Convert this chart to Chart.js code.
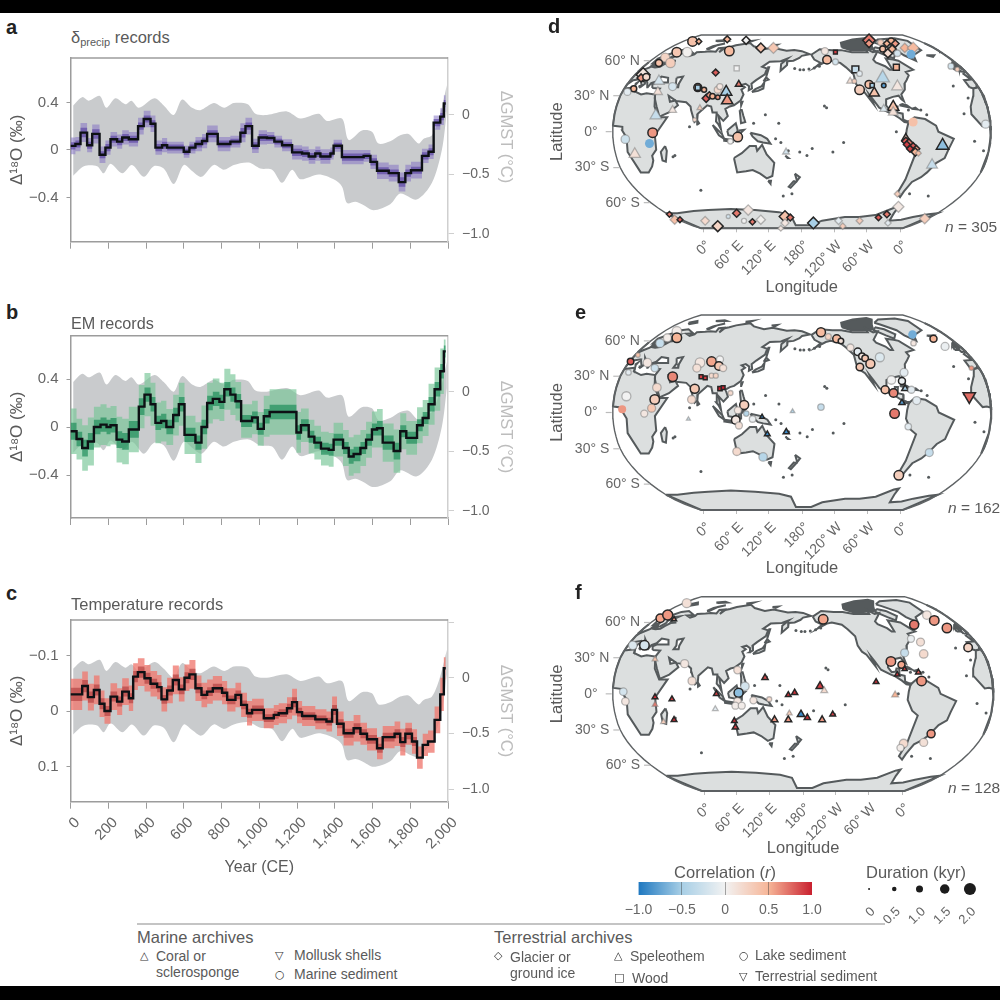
<!DOCTYPE html>
<html>
<head>
<meta charset="utf-8">
<title>Isotope records</title>
<script src="https://cdn.jsdelivr.net/npm/chart.js@4"></script>
<style>
  html, body { margin: 0; padding: 0; background: #fff; width: 1000px; height: 1000px; overflow: hidden; }
  body { position: relative; font-family: "Liberation Sans", "DejaVu Sans", sans-serif; color: #5a5a5a; }
  canvas { position: absolute; }
  .bar { position: absolute; left: 0; width: 1000px; background: #000; z-index: 5; }
  .t { position: absolute; transform: translateY(-50%); white-space: nowrap; font-size: 16.5px; line-height: 1; z-index: 4; }
  .c { transform: translate(-50%, -50%); }
  .r { transform: translate(-50%, -50%) rotate(90deg); color: #bdbdbd; font-size: 16.5px; }
  .letter { font-weight: bold; font-size: 20px; color: #222; }
  .small { font-size: 14px; }
  .glyph { font-size: 11px; font-weight: bold; color: #333; font-family: "DejaVu Sans", sans-serif; }
  sub { font-size: 11px; vertical-align: -3px; line-height: 0; }
  #rule { position: absolute; left: 137px; top: 923px; width: 748px; height: 1.5px; background: #c4c4c4; }
</style>
</head>
<body>
<div class="bar" style="top:0;height:13px"></div>
<div class="bar" style="top:986px;height:14px"></div>

<div class="t letter" style="left:6px;top:27px">a</div>
<div class="t letter" style="left:6px;top:312px">b</div>
<div class="t letter" style="left:6px;top:593px">c</div>
<div class="t letter" style="left:548px;top:26px">d</div>
<div class="t letter" style="left:575px;top:312px">e</div>
<div class="t letter" style="left:575px;top:592px">f</div>

<div class="t" style="left:71px;top:37px">δ<sub>precip</sub> records</div>
<div class="t" style="left:71px;top:323px;font-size:16.2px">EM records</div>
<div class="t" style="left:71px;top:604px">Temperature records</div>

<div class="t r" style="left:507px;top:137px">ΔGMST (°C)</div>
<div class="t r" style="left:507px;top:427px">ΔGMST (°C)</div>
<div class="t r" style="left:507px;top:711px">ΔGMST (°C)</div>

<div class="t" style="left:945px;top:227px;font-size:15.5px"><i>n</i> = 305</div>
<div class="t" style="left:948px;top:508px;font-size:15.5px"><i>n</i> = 162</div>
<div class="t" style="left:948px;top:788px;font-size:15.5px"><i>n</i> = 128</div>

<div class="t c" style="left:725px;top:872px">Correlation (<i>r</i>)</div>
<div class="t c" style="left:916px;top:872px">Duration (kyr)</div>

<div id="rule"></div>
<div class="t" style="left:137px;top:937px">Marine archives</div>
<div class="t" style="left:494px;top:937px">Terrestrial archives</div>
<div class="t glyph" style="left:140px;top:955px">△</div>
<div class="t small" style="left:156px;top:956px">Coral or</div>
<div class="t small" style="left:156px;top:972px">sclerosponge</div>
<div class="t glyph" style="left:275px;top:955px">▽</div>
<div class="t small" style="left:294px;top:955px">Mollusk shells</div>
<div class="t glyph" style="left:275px;top:974px">○</div>
<div class="t small" style="left:294px;top:974px">Marine sediment</div>
<div class="t glyph" style="left:494px;top:955px">◇</div>
<div class="t small" style="left:510px;top:957px">Glacier or</div>
<div class="t small" style="left:510px;top:973px">ground ice</div>
<div class="t glyph" style="left:614px;top:955px">△</div>
<div class="t small" style="left:630px;top:956px">Speleothem</div>
<div class="t glyph" style="left:614px;top:977px">□</div>
<div class="t small" style="left:632px;top:978px">Wood</div>
<div class="t glyph" style="left:739px;top:955px">○</div>
<div class="t small" style="left:755px;top:955px">Lake sediment</div>
<div class="t glyph" style="left:739px;top:976px">▽</div>
<div class="t small" style="left:755px;top:976px">Terrestrial sediment</div>

<script>
const gmstUpYears = [14,62,97,155,190,238,291,323,362,445,494,547,591,644,688,759,815,865,939,980,1041,1147,1218,1315,1359,1438,1474,1544,1597,1632,1694,1747,1791,1844,1871,1915,1955,1994];
const gmstUp = [0.08,0.15,0.12,0.16,0.06,0.14,0.09,0.12,0.06,0.14,0.08,0,0.13,0.06,0.04,0.10,0.06,0.10,0.09,0.01,0,0.03,-0.03,0.01,-0.05,-0.03,-0.21,-0.13,-0.14,-0.24,-0.22,-0.17,-0.16,-0.24,-0.2,-0.17,-0.01,0.25];
const gmstLowYears = [14,71,141,176,212,274,326,388,441,494,547,600,644,694,759,812,865,944,1006,1068,1121,1174,1218,1315,1394,1438,1465,1509,1544,1606,1694,1747,1835,1915,1968,1994];
const gmstLow = [-0.51,-0.43,-0.43,-0.49,-0.41,-0.49,-0.42,-0.52,-0.43,-0.45,-0.58,-0.42,-0.47,-0.52,-0.42,-0.46,-0.42,-0.4,-0.45,-0.46,-0.57,-0.46,-0.54,-0.5,-0.54,-0.6,-0.74,-0.73,-0.75,-0.8,-0.75,-0.66,-0.71,-0.57,-0.29,0.03];

const yearTicks = [0,200,400,600,800,1000,1200,1400,1600,1800,2000];
const gmstTicks = [0,-0.5,-1];
const gmstTicksC = [0.5,0,-0.5,-1];

const precipYears = [0,26,53,88,115,154,185,212,247,274,309,358,388,424,450,485,512,600,630,662,697,724,780,847,900,927,962,997,1041,1080,1121,1174,1227,1262,1297,1324,1377,1394,1438,1553,1589,1624,1686,1739,1774,1804,1862,1897,1924,1959,1978,1988];
const precipVals = [0.034,0.05,0.146,0.04,0.135,-0.04,0.02,0.09,0.07,0.105,0.09,0.2,0.26,0.22,0.02,0.04,0.02,-0.015,0.02,0.05,0.075,0.135,0.05,0.07,0.145,0.2,0.035,0.105,0.1,0.07,0.04,-0.02,-0.03,-0.055,-0.03,-0.055,-0.03,0.035,-0.06,-0.05,-0.1,-0.175,-0.195,-0.27,-0.195,-0.17,-0.05,-0.015,0.23,0.28,0.39,0.39];
const precipOuter = [0.07,0.06,0.08,0.06,0.08,0.07,0.06,0.06,0.06,0.06,0.06,0.07,0.07,0.07,0.06,0.06,0.05,0.05,0.05,0.06,0.06,0.07,0.06,0.05,0.08,0.07,0.06,0.06,0.05,0.05,0.05,0.06,0.06,0.06,0.06,0.06,0.05,0.05,0.06,0.05,0.06,0.07,0.07,0.08,0.07,0.07,0.06,0.06,0.06,0.07,0.07,0.07];
const precipInner = [0.03,0.03,0.04,0.03,0.04,0.03,0.03,0.03,0.03,0.03,0.03,0.03,0.03,0.03,0.03,0.03,0.025,0.025,0.025,0.03,0.03,0.03,0.03,0.025,0.04,0.03,0.03,0.03,0.025,0.025,0.025,0.03,0.03,0.03,0.03,0.03,0.025,0.025,0.03,0.025,0.03,0.03,0.03,0.04,0.03,0.03,0.03,0.03,0.03,0.03,0.03,0.03];

const emYears = [0,32,62,92,124,159,191,212,244,274,309,362,392,424,450,480,508,544,574,604,662,694,724,754,789,815,847,874,904,962,992,1024,1055,1197,1221,1262,1292,1327,1368,1394,1444,1474,1500,1536,1566,1597,1624,1654,1712,1747,1779,1836,1866,1897,1929,1959,1978,1988];
const emVals = [-0.035,-0.1,-0.175,-0.12,0,0.02,0,0.015,-0.105,-0.12,-0.02,0.17,0.27,0.19,0.035,0.05,0,0.1,0.19,-0.065,-0.13,0,0.2,0.235,0.21,0.315,0.27,0.215,0.05,0.08,-0.015,0.09,0.125,-0.045,0.015,-0.08,-0.13,-0.18,-0.19,-0.105,-0.175,-0.245,-0.225,-0.175,-0.105,-0.02,-0.01,-0.13,-0.2,-0.035,-0.09,0.015,0.075,0.19,0.315,0.465,0.63,0.63];
const emOuter = [0.19,0.17,0.19,0.2,0.17,0.17,0.16,0.16,0.19,0.19,0.19,0.18,0.18,0.18,0.17,0.17,0.15,0.17,0.18,0.16,0.17,0.18,0.17,0.17,0.16,0.17,0.17,0.16,0.14,0.14,0.14,0.17,0.19,0.17,0.14,0.14,0.14,0.14,0.14,0.14,0.15,0.16,0.16,0.15,0.15,0.15,0.16,0.16,0.18,0.15,0.14,0.15,0.15,0.17,0.18,0.19,0.1,0.1];
const emInner = [0.07,0.06,0.07,0.07,0.06,0.06,0.06,0.06,0.07,0.07,0.07,0.07,0.06,0.06,0.06,0.06,0.06,0.06,0.06,0.06,0.06,0.06,0.06,0.06,0.06,0.06,0.06,0.06,0.05,0.05,0.05,0.06,0.06,0.06,0.05,0.05,0.05,0.05,0.05,0.05,0.05,0.06,0.06,0.05,0.05,0.05,0.06,0.06,0.07,0.05,0.05,0.05,0.05,0.06,0.06,0.06,0.05,0.05];

const tempYears = [0,62,92,124,154,180,212,247,274,309,332,357,392,424,459,482,512,542,574,604,630,662,694,724,754,803,830,874,904,935,962,1024,1077,1103,1147,1174,1200,1227,1297,1356,1386,1412,1447,1500,1536,1571,1624,1654,1717,1747,1774,1809,1836,1866,1894,1929,1959,1978,1988];
const tempVals = [-0.03,-0.045,-0.025,-0.038,-0.013,0,-0.026,-0.017,-0.035,-0.023,-0.062,-0.07,-0.059,-0.049,-0.043,-0.021,-0.037,-0.056,-0.039,-0.06,-0.066,-0.041,-0.029,-0.035,-0.041,-0.033,-0.02,-0.029,-0.011,0.004,-0.002,0.013,0.007,0.004,-0.005,-0.016,0.002,0.009,0.015,0.019,-0.002,0.023,0.04,0.031,0.041,0.051,0.067,0.047,0.041,0.056,0.041,0.055,0.084,0.061,0.055,0.016,-0.03,-0.077,-0.077];
const tempOuter = [0.028,0.026,0.024,0.026,0.024,0.023,0.024,0.024,0.024,0.023,0.024,0.025,0.024,0.023,0.022,0.022,0.023,0.026,0.022,0.024,0.026,0.023,0.022,0.022,0.022,0.021,0.021,0.022,0.022,0.022,0.02,0.018,0.018,0.018,0.02,0.024,0.02,0.018,0.018,0.018,0.024,0.022,0.022,0.024,0.02,0.02,0.02,0.02,0.022,0.024,0.02,0.022,0.02,0.02,0.02,0.024,0.03,0.02,0.02];
const tempInner = [0.012,0.011,0.01,0.01,0.01,0.009,0.009,0.009,0.009,0.009,0.01,0.01,0.01,0.009,0.009,0.008,0.009,0.01,0.009,0.01,0.01,0.009,0.008,0.008,0.008,0.008,0.008,0.008,0.008,0.008,0.008,0.007,0.007,0.007,0.008,0.009,0.008,0.007,0.007,0.007,0.009,0.008,0.008,0.009,0.008,0.008,0.008,0.008,0.008,0.009,0.01,0.008,0.008];

/* ---- map ticks ---- */
const latTicks = [60,30,0,-30,-60];
const latLabels = ['60° N','30° N','0°','30° S','60° S'];
const lonTickX = [-93.6,-62.6,-31.6,0,31,62,94];
const lonLabels = ['0°','60° E','120° E','180°','120° W','60° W','0°'];

/* Robinson table, every 5 degrees */
const robX = [1,0.9986,0.9954,0.99,0.9822,0.973,0.96,0.9427,0.9216,0.8962,0.8679,0.835,0.7986,0.7597,0.7186,0.6732,0.6213,0.5722,0.5322];
const robY = [0,0.062,0.124,0.186,0.248,0.31,0.372,0.434,0.4958,0.5571,0.6176,0.6769,0.7346,0.7903,0.8435,0.8936,0.9394,0.9761,1];

/* ---- coastlines, [lon, lat] ---- */
const eurasia = [[-9,37],[-9.5,43],[-1.5,43.5],[-4.5,48.5],[1.5,50.5],[4,52],[8,54],[8.5,57],[10.5,57.5],[10,54.5],[14,54],[19,54.5],[21,57],[24,59.5],[30,60],[23,60],[21.5,63],[25,65.5],[21.5,65],[17.5,61.5],[18.5,59.5],[16,56.5],[13,55.5],[11,59],[6,58],[5,62],[13,66.5],[20,70],[28,71],[41,67],[33,66.5],[40,64.5],[44,66],[44,68],[54,68.5],[60,69],[68,68.5],[67,72],[73,72.5],[73,68],[75,72],[80,73],[87,75],[104,77.5],[113,74],[129,71],[140,72.5],[160,69.5],[170,70],[180,69],[190,66],[180,64.5],[177,62.5],[170,60],[163,59.5],[163,56],[156.5,51],[156,57],[163,62],[155,59.5],[142,59],[135,54.5],[141,53],[140,48],[132,43],[128,40],[129.5,36],[126.5,34.5],[126,38],[122,40],[118,39],[122,37],[119,35],[122,31],[120,26],[114,22],[110,21],[106,19],[109,13],[105,9],[100,13.5],[103,2],[100.5,6],[98,8.5],[98,16],[94,16],[92,21],[88,22],[80,15],[80,10],[77.5,8],[73,18],[72,21],[67,24.5],[57,25.5],[52,28],[48,30],[51,25],[56,26],[59.5,22],[52,16],[43.5,12.5],[39,21],[35,28],[34,31],[36,36],[28,36.5],[26,39.5],[29,41],[41,41],[38,45],[30,46],[28,42],[24,40.5],[23,37],[19.5,41],[13,45.5],[18,40],[16,38],[10,44],[3,43],[0,39.5],[-2,37],[-6,36],[-9,37]];
const africa = [[-6,36],[10,37],[11,34],[20,31],[25,32],[34,31],[37,21],[43,12],[51,12],[40,-3],[40,-15],[35,-20],[35,-24],[32,-29],[26,-34],[18,-34],[12,-17],[13,-5],[9,1],[9,4],[-4,5],[-8,4.5],[-17,14.5],[-16,21],[-10,30],[-6,36]];
const northAmerica = [[-168,65.5],[-156,71],[-140,70],[-128,70],[-115,68],[-108,68],[-95,68],[-94,72],[-88,68],[-81,69],[-86,66],[-94,61],[-93,58.5],[-85,55],[-82,52],[-79,52],[-79,55],[-78,62],[-70,61],[-65,60],[-56,52],[-66,50],[-65,47],[-70,43],[-74,40],[-76,35],[-81,31],[-80,25.5],[-82,27],[-84,30],[-90,29],[-97,27],[-98,22],[-95,18],[-91,18.5],[-90,21],[-87,21],[-88,16],[-83,15],[-83,10],[-80,9],[-77,8.5],[-78,7.5],[-82,8],[-86,11],[-92,14.5],[-96,16],[-105,20],[-110,27],[-113,31],[-110,23],[-117,32.5],[-121,35],[-124,40],[-124,48],[-130,54],[-135,58],[-146,60],[-152,59],[-164,54.5],[-158,58],[-165,61],[-168,65.5]];
const southAmerica = [[-78,8],[-72,12],[-62,10.5],[-52,5],[-50,0],[-35,-6],[-39,-15],[-41,-22],[-48,-26],[-54,-34],[-58,-38],[-65,-42],[-68,-50],[-68,-55],[-74,-52],[-73,-40],[-70,-18],[-76,-14],[-81,-5],[-80,2],[-78,8]];
const australia = [[114,-22],[122,-18],[130,-12],[136,-12],[137,-16],[142,-11],[146,-19],[153,-26],[150,-37],[144,-39],[138,-35],[131,-32],[124,-33],[115,-34],[114,-22]];
const antarctica = [[0,-70],[15,-70],[40,-68],[60,-67],[90,-66],[120,-67],[150,-69],[165,-72],[170,-84],[195,-84],[210,-78],[240,-74],[260,-74],[280,-72],[295,-65],[300,-64],[302,-70],[310,-78],[325,-77],[335,-74],[350,-71],[360,-70],[360,-90],[0,-90],[0,-70]];
const islands = [
  [[49,-12],[50,-16],[47,-25],[44,-24],[44,-17]],
  [[-73,78],[-60,82],[-30,83.5],[-18,80],[-22,70],[-40,65],[-44,60],[-52,65],[-55,70],[-68,76]],
  [[-80,73],[-70,71],[-62,66],[-68,62],[-75,65],[-85,70]],
  [[173,-35],[178,-38],[175,-41],[174,-38]],
  [[172,-41],[174,-42],[168,-47],[166,-46]],
  [[95,5.5],[104,-2],[106,-6],[101,-3]],
  [[106,-6],[114,-7],[114,-8.5],[106,-7.5]],
  [[109,1],[117,7],[119,1],[116,-4],[110,-3]],
  [[120,1],[125,1.5],[122,-1],[122,-5],[120,-5]],
  [[131,-1],[141,-3],[147,-6],[150,-10],[143,-9],[138,-8],[133,-4]],
  [[120,18],[122,18],[124,13],[126,8],[122,7],[121,13]],
  [[130,33],[136,34],[141,36],[141,41],[139,38],[133,35.5]],
  [[140,42],[145,43.5],[142,45.5]],
  [[142,46],[143,54],[142,54]],
  [[120.5,25],[122,25],[121,22]],
  [[80,9.5],[82,7],[80.5,6]],
  [[-5,50],[1,51],[0,54],[-2,57],[-3,58.5],[-6,57],[-3,54],[-5,52]],
  [[-10,52],[-6,52],[-6,55],[-9,54.5]],
  [[-24,65],[-14,65],[-18,63.5]],
  [[12,78],[20,80],[25,78],[17,76.5]],
  [[52,71],[56,74],[68,77],[60,75],[55,71]],
  [[48,80],[60,81],[65,80],[52,79.5]],
  [[95,79],[105,80],[100,78]],
  [[137,75],[145,75.5],[142,74]],
  [[-85,22],[-75,20],[-78,22],[-82,23]],
  [[-74,19],[-68,18.5],[-70,20]],
  [[145,-41],[148,-41],[147,-43.5]],
  [[164,-20],[167,-22],[166,-22]],
  [[9,39],[9.5,41],[8.5,40]],
  [[13,38],[15.5,38],[15,37]]
];
// Canadian Arctic islands merge into one dark patch at this scale
const arcticIslands = [[-125,73],[-122,78],[-100,82],[-75,84],[-70,82],[-80,76],[-85,71],[-100,70],[-115,70]];
const caspian = [[47,45],[53,46],[53,40],[54,37],[49,37],[50,40]];
const smallIslands = [[-156,20],[-158,21.5],[-178,52],[-172,52.5],[-166,53.5],[-160,55],[172,53],[178,52],[-150,-17],[-140,-9],[-170,-14],[-175,-20],[178,-17],[167,-16],[160,-9],[155,-6],[145,14],[134,7],[158,7],[-90,0],[-60,-52],[-37,-54],[70,-49],[57,-20],[55,-21],[73,4],[-25,38],[-16,28],[-24,15],[-5,-16],[-15,-8],[169,-52],[159,-54],[-60,14],[-65,18],[-77,18]];

/* ---- proxy sites in the map plane: [x, y, r, duration, kind, edge] ---- */
const dSites = [
  [-104,84,0.4,1.5,'c',1],[-98,84,0.5,0.6,'d',1],[-71,86,0.5,0.8,'d',1],[-53,85,0,1,'d',1],[-39,78,0.4,1.3,'d',1],[-27,78,0.35,1.5,'d',0],
  [-69,75,0.45,1.5,'c',1],[-119,74,0.35,1.5,'c',1],[-109,74,0.02,1.5,'c',0],[-130,69,0.25,1.4,'c',0],[-125,64,0.3,1.5,'c',0],[-136,64,0.4,1,'c',1],
  [-151,53,0.1,2,'d',1],[-153,50,0.6,1,'d',1],[-148,51,0.2,1,'c',1],[-160,40,0.5,0.8,'c',1],[-166,37,-0.1,1,'c',0],[-136,47,-0.2,1.5,'t',0],
  [-123,42,-0.2,1.2,'c',0],[-137,37,0.15,1.2,'t',0],[-139,15,-0.3,1.6,'t',0],[-123,20,0.1,1,'t',0],[-142,-1,0.6,1.5,'c',1],[-145,-11,-0.7,1.4,'c',2],
  [-168,-7,-0.25,1.3,'c',0],[-159,-21,0.15,1.6,'t',0],[-82,55,0.8,0.8,'d',1],[-62,59,0,0.8,'s',0],[-99,41,0.5,1.2,'c',1],[-99,41,-0.5,0.8,'s',1],
  [-60,44,0.7,0.8,'t',1],[-80,39,0.2,1,'c',0],[-78,42,0.1,0.8,'c',0],[-72,37,-0.5,1.6,'t',1],[-71,29,0.6,1.6,'t',1],[-91,31,0.8,1,'d',1],
  [-88,34,0.6,0.8,'d',1],[-85,33,0.5,0.7,'c',1],[-80,32,0.6,0.5,'c',1],[-93,39,0.5,0.6,'c',1],[-97,22,0.3,0.6,'t',0],[-102,11,0.2,0.4,'c',0],
  [-61,-5,0.4,1.5,'c',1],[-68,-9,0,0.7,'c',0],[-15,-19,-0.2,0.8,'t',0],[32,65,-0.2,0.8,'c',0],[32,74,0.9,0.5,'s',1],[22,75,0.1,1,'c',0],
  [24,67,0.45,1.3,'c',1],[51,58,-0.3,1.2,'s',1],[55,54,-0.1,0.7,'c',0],[46,47,0.15,0.8,'t',0],[50,47,0.3,0.5,'c',0],[64,44,0.4,1.2,'c',1],
  [67,43,-0.5,0.6,'s',1],[55,39,0.3,1.5,'c',1],[69,36,0.4,1.4,'t',1],[77,50,-0.4,2,'t',0],[78,43,-0.8,0.5,'c',1],[91,42,0.1,1.6,'t',0],
  [87,23,0.4,1.6,'t',1],[78,21,-0.15,1,'t',0],[87,18,0.15,1.3,'t',0],[106,9,0.4,1.4,'c',2],[64,85,0.7,1.8,'d',1],[64,82,0.6,1,'d',1],
  [75,83,0.3,0.8,'c',0],[85,84,0.5,1,'c',1],[89,82,0.6,0.9,'d',1],[81,82,0.5,0.8,'d',1],[77,77,0.4,0.8,'c',1],[82,73,0.2,1.2,'d',1],
  [86,77,0.5,1,'d',1],[91,73,-0.2,0.9,'c',0],[98,78,0.5,1.2,'d',0],[106,78,0.45,1.6,'d',0],[104,72,-0.7,1.4,'c',2],[90,60,0.5,1,'s',1],
  [142,61,-0.2,0.8,'c',0],[148,58,0.3,0.5,'c',0],[175,7,-0.1,1.2,'c',0],[134,-13,-0.6,1.8,'t',1],[124,-31,-0.3,1.5,'t',0],[99,-6,0.3,1,'t',1],
  [99,-9,0.8,1,'d',1],[102,-11,0.7,1.2,'d',1],[106,-14,0.8,1,'d',1],[109,-16,0.6,0.8,'d',1],[103,-16,0.9,0.8,'d',1],[108,-19,0.5,1,'d',1],
  [111,-20,0.4,0.6,'d',0],[100,-12,0.9,0.8,'d',1],[91,-58,0.3,0.7,'d',0],[92,-70,0.08,1.5,'d',0],[81,-77,0.7,0.8,'d',1],[73,-80,0.8,0.7,'d',1],
  [82,-85,-0.1,0.7,'d',0],[117,-81,0.3,1.4,'d',0],[55,-83,0.3,0.8,'d',0],[35,-83,-0.1,0.9,'d',0],[39,-88,0.3,0.7,'d',0],[11,-85,-0.5,1.6,'d',1],
  [-16,-79,0.4,1.6,'d',1],[-11,-80,0.7,0.8,'d',1],[-16,-85,0.1,1,'d',0],[-20,-90,0.1,0.6,'d',0],[-39,-82,0.02,1.2,'d',0],[-47,-84,0.7,0.7,'d',1],
  [-51,-73,0.1,1.4,'d',0],[-62,-76,0.7,1,'d',1],[-55,-83,0,0.6,'c',0],[-70,-79,-0.2,0.4,'c',0],[-80,-88,0.25,1.5,'d',1],[-92,-83,0.2,1.1,'d',0],
  [-126,-77,0.7,0.6,'d',1],[-121,-82,0.4,1.2,'d',0],[-116,-82,0.8,0.6,'d',1]
];
const eSites = [
  [-119,75,0.05,1.5,'c',0],[-128,69,0.05,1.2,'c',0],[-119,69,0.5,1.5,'c',1],[-135,64,-0.3,1.3,'c',0],[-156,53,0.4,0.5,'c',0],[-163,47,0.8,0.9,'c',1],
  [-147,46,0.1,1.3,'c',0],[-140,41,-0.25,1.1,'c',0],[-165,37,-0.1,0.7,'c',0],[-123,33,0.65,1.5,'c',1],[-138,23,0.2,1.3,'c',0],[-167,15,0,1.4,'c',0],
  [-140,12,0.3,1.5,'c',1],[-171,3,0.6,1.2,'c',2],[-143,4,0.35,1.2,'c',0],[-150,-1,0.1,1,'c',0],[-97,46,0.1,1.5,'c',0],[-100,41,0.15,1.2,'c',0],
  [-86,47,0.55,1.5,'c',1],[-78,49,0,1,'c',0],[-79,43,0.35,1.3,'c',1],[-75,41,0.15,1,'c',0],[-86,34,0.2,0.6,'c',0],[-82,34,0.25,0.6,'c',0],
  [-96,33,0.9,0.5,'s',1],[-92,32,0.9,0.5,'s',1],[-102,22,0.35,1.4,'c',1],[-105,12,0.2,1.2,'c',0],[-78,22,1,0.6,'s',1],[-75,23,1,0.5,'s',1],
  [-68,18,0.2,0.6,'c',0],[-55,7,0.3,1.4,'c',1],[-61,2,0.1,1,'c',0],[-63,-7,0.1,1.3,'c',1],[-53,-1,-0.4,0.7,'c',0],[-47,-6,-0.05,0.9,'c',0],
  [-60,-12,0.15,1,'c',0],[-38,-4,-0.9,0.4,'t',1],[-33,-20,-0.9,0.6,'t',1],[-15,-18,-0.9,0.7,'t',1],[-9,1,-0.4,0.4,'t',0],[-108,-6,-0.2,0.3,'t',0],
  [-62,-36,0.2,1.2,'c',0],[-37,-41,-0.4,1.3,'c',0],[18,5,-0.3,0.9,'c',0],[18,74,0.45,1.4,'c',1],[25,70,0.25,0.8,'c',0],[33,68,0.45,1.2,'c',1],
  [37,66,0.15,0.7,'c',1],[46,60,0.1,1,'c',0],[53,56,-0.1,1.1,'c',1],[57,52,0.1,0.9,'c',1],[60,50,0.35,0.9,'c',1],[65,45,0.35,1.4,'c',1],
  [55,42,0.35,1.1,'c',1],[74,51,-0.15,1.4,'c',0],[105,72,-0.7,1.3,'c',2],[106,64,0.1,0.7,'c',0],[125,68,0.5,1,'c',1],[136,61,-0.05,1.2,'c',0],
  [97,37,-0.1,1.2,'c',0],[85,30,0,1.3,'c',0],[95,29,-0.05,1,'c',1],[79,21,0.4,1.2,'c',1],[87,18,0.65,1.3,'c',1],[98,22,-0.5,0.8,'t',1],
  [104,21,-0.1,1,'c',0],[109,11,-0.1,1.2,'c',0],[95,9,-0.8,0.7,'t',1],[88,-1,0.7,1.5,'c',1],[101,-13,-0.1,0.9,'c',0],[121,-37,-0.3,1.2,'c',0],
  [92,-58,0.3,1.5,'c',1],[159,15,0.75,1.8,'v',1],[161,41,0.6,0.5,'c',0]
];
const fSites = [
  [-110,84,0.15,1.4,'c',0],[-135,70,0.55,1.3,'c',1],[-128,73,0.6,1.6,'c',1],[-122,69,0.6,0.5,'t',1],[-161,45,-0.15,1.3,'c',0],[-150,45,-0.2,1.5,'c',1],
  [-140,32,0.4,0.6,'t',0],[-112,28,0.1,1.2,'c',0],[-105,12,0.15,1.2,'c',0],[-170,2,-0.2,1.1,'c',0],[-168,-7,0.1,1.1,'c',0],[-140,-3,0.95,0.6,'t',1],
  [-140,-10,0.7,0.6,'t',0],[-124,-5,0.9,0.6,'t',1],[-122,-24,0.95,0.6,'t',1],[-132,-26,0.3,0.6,'t',0],[-82,0,0.9,0.6,'t',1],[-83,-14,-0.1,0.6,'t',0],
  [-65,-25,0.95,0.6,'t',1],[-64,-31,0.9,0.7,'t',1],[-62,22,0.15,1.1,'c',0],[-55,7,-0.2,1.3,'c',0],[-61,1,-0.6,1.4,'c',1],[-62,-7,0.1,1.1,'c',0],
  [-64,-11,0.05,1,'c',0],[-58,-11,0.05,1,'c',0],[-47,-6,0.1,1,'c',0],[-36,15,0.85,0.7,'t',1],[-14,-1,0.95,0.6,'t',1],[-8,1,0.95,0.7,'t',1],
  [16,7,0.9,1,'t',1],[20,3,0.2,0.8,'t',0],[-2,-19,-0.9,0.9,'t',1],[4,-22,0.95,0.7,'t',1],[-27,-24,0.6,0.8,'t',1],[-14,-24,0.6,0.8,'t',1],
  [-13,-18,0.3,0.6,'t',0],[18,-24,0.6,0.8,'t',1],[28,-19,0.9,0.6,'t',1],[-32,-5,0.2,0.6,'c',0],[19,69,0.55,1.5,'c',1],[69,11,0.95,0.6,'t',1],
  [87,-1,0.5,0.8,'t',0],[83,30,0.6,1.5,'c',1],[93,27,0.55,1,'c',1],[89,18,0.95,0.5,'t',1],[96,23,0.9,0.5,'t',1],[109,20,0.8,0.6,'t',1],
  [112,12,0.6,1.5,'c',1],[102,51,-0.05,1,'c',0],[111,48,0.15,1.2,'c',0],[114,37,0.2,1.3,'c',0],[96,38,-0.3,1.2,'c',0],[105,64,0.7,1.4,'c',1],
  [117,73,0.1,1.3,'c',0],[124,68,0.6,1.5,'c',1],[136,61,0.6,1.5,'c',1],[156,43,0.25,1.3,'c',1],[121,-37,0.6,1.2,'c',1],[114,-45,0.15,1.2,'c',0],
  [95,-46,0.2,1.3,'c',0],[92,-50,0.05,1,'c',0]
];

/* ---- colour bar and duration key ---- */
const corrTicks = [-1,-0.5,0,0.5,1];
const corrStops = [[-1,[31,120,192]],[-0.5,[168,207,230]],[0,[242,242,242]],[0.5,[246,181,151]],[1,[201,32,47]]];
const durTicks = [0,0.5,1,1.5,2];

const GREY_TEXT = '#666';
const FONT = '"Liberation Sans", "DejaVu Sans", sans-serif';

function makeCanvas(left, top, width, height) {
  const c = document.createElement('canvas');
  c.width = width;
  c.height = height;
  c.style.left = left + 'px';
  c.style.top = top + 'px';
  document.body.appendChild(c);
  return c;
}

function fixedWidth(w) {
  return scale => { scale.width = w; scale.paddingTop = 0; scale.paddingBottom = 0; };
}
function fixedHeight(h) {
  return scale => { scale.height = h; scale.paddingLeft = 0; scale.paddingRight = 0; };
}
function setTicks(list) {
  return scale => { scale.ticks = list.map(v => ({ value: v })); };
}
function minusLabel(v) {
  const s = Math.abs(v) < 1e-9 ? '0' : (Math.abs(v) >= 0.99 ? Math.abs(v).toFixed(1) : String(Math.abs(v)));
  return (v < -1e-9 ? '−' : '') + s;
}

// top edge of the time panels
const frameTop = {
  id: 'frameTop',
  afterDatasetsDraw(chart) {
    const { ctx, chartArea: a } = chart;
    ctx.save();
    ctx.strokeStyle = '#9c9c9c';
    ctx.lineWidth = 1.5;
    ctx.beginPath();
    ctx.moveTo(a.left, a.top);
    ctx.lineTo(a.right, a.top);
    ctx.stroke();
    ctx.restore();
  },
};

function stepData(years, vals, sign, half) {
  return years.map((y, i) => ({ x: y, y: vals[i] + sign * (half ? half[i] : 0) }));
}

function timePanel(p) {
  const canvas = makeCanvas(0, p.top, 530, p.height);
  const plotH = p.plotBottom - p.plotTop;
  const xH = p.height - (p.plotTop - p.top) - plotH;
  const band = (sign, half, fill, color, order) => ({
    type: 'line', yAxisID: 'y', stepped: true, data: stepData(p.years, p.vals, sign, half),
    borderWidth: 0, pointRadius: 0, fill: fill, backgroundColor: color, order: order,
  });

  new Chart(canvas, {
    type: 'line',
    data: {
      datasets: [
        { yAxisID: 'y2', data: gmstUpYears.map((y, i) => ({ x: y, y: gmstUp[i] })), borderWidth: 0, pointRadius: 0, tension: 0.3, fill: '+1', backgroundColor: '#c9cbcd', order: 10 },
        { yAxisID: 'y2', data: gmstLowYears.map((y, i) => ({ x: y, y: gmstLow[i] })), borderWidth: 0, pointRadius: 0, tension: 0.3, fill: false, order: 10 },
        band(1, p.outer, '+1', p.outerColor, 6),
        band(-1, p.outer, false, p.outerColor, 6),
        band(1, p.inner, '+1', p.innerColor, 4),
        band(-1, p.inner, false, p.innerColor, 4),
        { yAxisID: 'y', stepped: true, data: stepData(p.years, p.vals, 0), borderColor: '#0d1014', borderWidth: 2.4, pointRadius: 0, fill: false, order: 1 },
      ],
    },
    options: {
      responsive: false,
      animation: false,
      devicePixelRatio: 1,
      layout: { padding: { top: p.plotTop - p.top, left: 0, right: 0, bottom: 0 } },
      plugins: { legend: { display: false }, tooltip: { enabled: false } },
      scales: {
        x: {
          type: 'linear', min: 0, max: 2000,
          afterBuildTicks: setTicks(yearTicks),
          afterFit: fixedHeight(xH),
          border: { color: '#9c9c9c', width: 1.5 },
          grid: { drawOnChartArea: false, tickLength: 7, color: '#9c9c9c' },
          ticks: {
            display: p.showYears, minRotation: 45, maxRotation: 45, autoSkip: false, padding: 5, labelOffset: 7,
            color: GREY_TEXT, font: { family: FONT, size: 15 },
            callback: v => v.toLocaleString('en-US'),
          },
          title: { display: p.showYears, text: 'Year (CE)', color: '#5a5a5a', padding: 0, font: { family: FONT, size: 16 } },
        },
        y: {
          position: 'left', min: p.yMin, max: p.yMax, reverse: !!p.reverse,
          afterBuildTicks: setTicks(p.yTicks),
          afterFit: fixedWidth(70.5),
          border: { color: '#9c9c9c', width: 1.5 },
          grid: { drawOnChartArea: false, tickLength: 4, color: '#9c9c9c' },
          ticks: { padding: 8, color: GREY_TEXT, font: { family: FONT, size: 15 }, callback: minusLabel },
          title: { display: true, text: 'Δ¹⁸O (‰)', color: '#5a5a5a', padding: 7, font: { family: FONT, size: 17 } },
        },
        y2: {
          position: 'right', min: p.gmstMin, max: p.gmstMax,
          afterBuildTicks: setTicks(p.gmstTicks),
          afterFit: fixedWidth(82),
          border: { color: '#cfcfcf', width: 1.5 },
          grid: { drawOnChartArea: false, tickLength: 6, color: '#cfcfcf' },
          ticks: { padding: 8, color: GREY_TEXT, font: { family: FONT, size: 14 }, callback: v => (v > 0 ? '' : minusLabel(v)) },
        },
      },
    },
    plugins: [frameTop],
  });
}

timePanel({
  top: 50, height: 204, plotTop: 58, plotBottom: 241.7, showYears: false,
  years: precipYears, vals: precipVals, outer: precipOuter, inner: precipInner,
  outerColor: 'rgba(133,117,196,0.55)', innerColor: 'rgba(86,62,160,0.62)',
  yMin: -0.771, yMax: 0.773, yTicks: [-0.4, 0, 0.4],
  gmstMin: -1.065, gmstMax: 0.479, gmstTicks: gmstTicks,
});
timePanel({
  top: 328, height: 202, plotTop: 335.7, plotBottom: 518, showYears: false,
  years: emYears, vals: emVals, outer: emOuter, inner: emInner,
  outerColor: 'rgba(118,198,150,0.66)', innerColor: 'rgba(28,140,88,0.68)',
  yMin: -0.758, yMax: 0.761, yTicks: [-0.4, 0, 0.4],
  gmstMin: -1.059, gmstMax: 0.469, gmstTicks: gmstTicks,
});
timePanel({
  top: 612, height: 265, plotTop: 620, plotBottom: 801.7, showYears: true, reverse: true,
  years: tempYears, vals: tempVals, outer: tempOuter, inner: tempInner,
  outerColor: 'rgba(240,120,112,0.78)', innerColor: 'rgba(176,62,62,0.65)',
  yMin: -0.164, yMax: 0.1634, yTicks: [-0.1, 0, 0.1],
  gmstMin: -1.114, gmstMax: 0.518, gmstTicks: gmstTicksC,
});

/* ---- map helpers ---- */
function robLookup(table, lat) {
  const a = Math.min(Math.abs(lat), 90) / 5;
  const i = Math.min(Math.floor(a), table.length - 2);
  return table[i] + (table[i + 1] - table[i]) * (a - i);
}
function project(lon, lat) {
  const l = Math.max(0, Math.min(360, lon));
  return { x: robLookup(robX, lat) * (l - 180), y: Math.sign(lat) * robLookup(robY, lat) * 90 };
}
function rColor(r) {
  for (let i = 0; i < corrStops.length - 1; i++) {
    const [a, ca] = corrStops[i];
    const [b, cb] = corrStops[i + 1];
    if (r <= b) {
      const t = (r - a) / (b - a);
      return 'rgb(' + ca.map((v, k) => Math.round(v + (cb[k] - v) * t)).join(',') + ')';
    }
  }
  return 'rgb(201,32,47)';
}
const dotRadius = d => 1 + 2.5 * d;
const kindScale = { c: 1, t: 1.3, v: 1.3, d: 1.15, s: 1.2 };

// a shape can cross the 0 degree seam, so it is drawn once per side
function shapeDatasets(poly, fill) {
  const out = [];
  [0, 360].forEach(off => {
    const lons = poly.map(p => p[0] + off);
    if (!lons.some(l => l > 0 && l < 360)) return;
    const pts = poly.map(p => project(p[0] + off, p[1]));
    pts.push(pts[0]);
    out.push({ data: pts, showLine: true, pointRadius: 0, borderColor: '#555a5c', borderWidth: 2, backgroundColor: fill, landFill: fill, order: 8, clip: false });
  });
  return out;
}

// land colour goes under the coast lines
const landFill = {
  id: 'landFill',
  beforeDatasetsDraw(chart) {
    const ctx = chart.ctx;
    chart.data.datasets.forEach((ds, i) => {
      if (!ds.landFill) return;
      const pts = chart.getDatasetMeta(i).data;
      ctx.save();
      ctx.fillStyle = ds.landFill;
      ctx.beginPath();
      pts.forEach((p, k) => (k ? ctx.lineTo(p.x, p.y) : ctx.moveTo(p.x, p.y)));
      ctx.closePath();
      ctx.fill();
      ctx.restore();
    });
  },
};

// latitude labels sit against the curved edge of the map
const latLabelsPlugin = {
  id: 'latLabelsPlugin',
  afterDatasetsDraw(chart) {
    const { ctx, scales } = chart;
    ctx.save();
    ctx.font = '14px ' + FONT;
    ctx.textAlign = 'right';
    ctx.textBaseline = 'middle';
    scales.y.ticks.forEach((tick, i) => {
      const edge = scales.x.getPixelForValue(-180 * robLookup(robX, latTicks[i]));
      const py = scales.y.getPixelForValue(tick.value);
      ctx.strokeStyle = '#bbb';
      ctx.lineWidth = 1.2;
      ctx.beginPath();
      ctx.moveTo(edge - 7, py);
      ctx.lineTo(edge - 1, py);
      ctx.stroke();
      ctx.fillStyle = GREY_TEXT;
      ctx.fillText(tick.label, edge - (latTicks[i] === 0 ? 15 : 11), py);
    });
    ctx.restore();
  },
};

function mapPanel(sites, top, plotTop, plotBottom, titleY) {
  const height = Math.ceil(titleY + 9.6 - top);
  const canvas = makeCanvas(540, top, 460, height);
  const edge = [];
  for (let lat = -90; lat <= 90; lat += 5) edge.push(project(0, lat));
  for (let lat = 90; lat >= -90; lat -= 5) edge.push(project(360, lat));
  edge.push(edge[0]);

  const shapes = [eurasia, africa, northAmerica, southAmerica, australia, antarctica].concat(islands);
  const datasets = [];
  shapes.forEach(s => datasets.push(...shapeDatasets(s, '#dcdfdf')));
  datasets.push(...shapeDatasets(arcticIslands, '#555a5c'));
  datasets.push(...shapeDatasets(caspian, '#ffffff'));
  datasets.push({ data: edge, showLine: true, pointRadius: 0, borderColor: '#5f6365', borderWidth: 1.4, order: 7, clip: false });
  datasets.push({ data: smallIslands.map(p => project(p[0] < 0 ? p[0] + 360 : p[0], p[1])), pointRadius: 1.5, pointBackgroundColor: '#555a5c', pointBorderWidth: 0, order: 6, clip: false });
  datasets.push({
    data: sites.map(s => ({ x: s[0], y: s[1] })),
    pointStyle: sites.map(s => ({ c: 'circle', t: 'triangle', v: 'triangle', d: 'rectRot', s: 'rect' })[s[4]]),
    pointRotation: sites.map(s => (s[4] === 'v' ? 180 : 0)),
    pointRadius: sites.map(s => dotRadius(s[3]) * kindScale[s[4]]),
    pointBackgroundColor: sites.map(s => rColor(s[2])),
    pointBorderColor: sites.map(s => ['rgba(125,125,125,0.55)', '#262626', 'rgba(0,0,0,0)'][s[5]]),
    pointBorderWidth: sites.map(s => (s[5] === 1 ? 1.5 : 1.3)),
    order: 1,
    clip: false,
  });

  new Chart(canvas, {
    type: 'scatter',
    data: { datasets: datasets },
    options: {
      responsive: false,
      animation: false,
      devicePixelRatio: 1,
      layout: { padding: { top: plotTop - top, left: 0, right: 0.7, bottom: 0 } },
      plugins: { legend: { display: false }, tooltip: { enabled: false } },
      scales: {
        x: {
          type: 'linear', min: -180, max: 180,
          afterBuildTicks: setTicks(lonTickX),
          afterFit: fixedHeight(height - (plotBottom - top)),
          border: { display: false },
          grid: { drawOnChartArea: false, tickLength: 4, color: '#bbb' },
          ticks: {
            minRotation: 45, maxRotation: 45, autoSkip: false, padding: 5, labelOffset: 5,
            color: GREY_TEXT, font: { family: FONT, size: 14 },
            callback: (v, i) => lonLabels[i],
          },
          title: { display: true, text: 'Longitude', color: '#5a5a5a', padding: 0, font: { family: FONT, size: 16.5 } },
        },
        y: {
          type: 'linear', min: -90, max: 90,
          afterBuildTicks: setTicks(latTicks.map(l => Math.sign(l) * robLookup(robY, l) * 90)),
          afterFit: fixedWidth(72.7),
          border: { display: false },
          grid: { display: false },
          ticks: { display: false, callback: (v, i) => latLabels[i] },
          title: { display: true, text: 'Latitude', color: '#5a5a5a', padding: 8, font: { family: FONT, size: 16.5 } },
        },
      },
    },
    plugins: [landFill, latLabelsPlugin],
  });
}

mapPanel(dSites, 14, 35, 228.3, 287);
mapPanel(eSites, 298, 315, 510, 568);
mapPanel(fSites, 580, 596.7, 791, 848);

/* ---- colour bar ---- */
new Chart(makeCanvas(620, 875, 210, 50), {
  type: 'bar',
  data: {
    labels: ['r'],
    datasets: [{
      data: [[-1, 1]],
      barPercentage: 1,
      categoryPercentage: 1,
      backgroundColor: ctx => {
        const a = ctx.chart.chartArea;
        if (!a) return '#ccc';
        const g = ctx.chart.ctx.createLinearGradient(a.left, 0, a.right, 0);
        corrStops.forEach(s => g.addColorStop((s[0] + 1) / 2, rColor(s[0])));
        return g;
      },
    }],
  },
  options: {
    indexAxis: 'y',
    responsive: false,
    animation: false,
    devicePixelRatio: 1,
    layout: { padding: { top: 7, left: 18.5, right: 18, bottom: 0 } },
    plugins: { legend: { display: false }, tooltip: { enabled: false } },
    scales: {
      x: {
        type: 'linear', min: -1, max: 1,
        afterBuildTicks: setTicks(corrTicks),
        afterFit: fixedHeight(30),
        border: { display: false },
        grid: { z: 1, color: c => (Math.abs(c.tick.value) === 1 ? 'rgba(0,0,0,0)' : 'rgba(60,60,60,0.45)'), drawTicks: false },
        ticks: { padding: 7, color: GREY_TEXT, font: { family: FONT, size: 14 }, callback: v => (v === 0 ? '0' : (v < 0 ? '−' : '') + Math.abs(v).toFixed(1)) },
      },
      y: { display: false },
    },
  },
});

/* ---- duration key ---- */
new Chart(makeCanvas(850, 875, 140, 51), {
  type: 'scatter',
  data: {
    datasets: [{
      data: durTicks.map(d => ({ x: d, y: 0 })),
      pointRadius: durTicks.map(dotRadius),
      pointBackgroundColor: '#1c1c1c',
      pointBorderWidth: 0,
      clip: false,
    }],
  },
  options: {
    responsive: false,
    animation: false,
    devicePixelRatio: 1,
    layout: { padding: { top: 7, left: 14, right: 15, bottom: 0 } },
    plugins: { legend: { display: false }, tooltip: { enabled: false } },
    scales: {
      x: {
        type: 'linear', min: -0.1, max: 2.1,
        afterBuildTicks: setTicks(durTicks),
        afterFit: fixedHeight(30),
        border: { display: false },
        grid: { display: false },
        ticks: { minRotation: 45, maxRotation: 45, autoSkip: false, padding: 0, labelOffset: 4, color: GREY_TEXT, font: { family: FONT, size: 13 }, callback: v => (v === 0 ? '0' : v.toFixed(1)) },
      },
      y: { display: false, min: -1, max: 1 },
    },
  },
});
</script>
</body>
</html>
